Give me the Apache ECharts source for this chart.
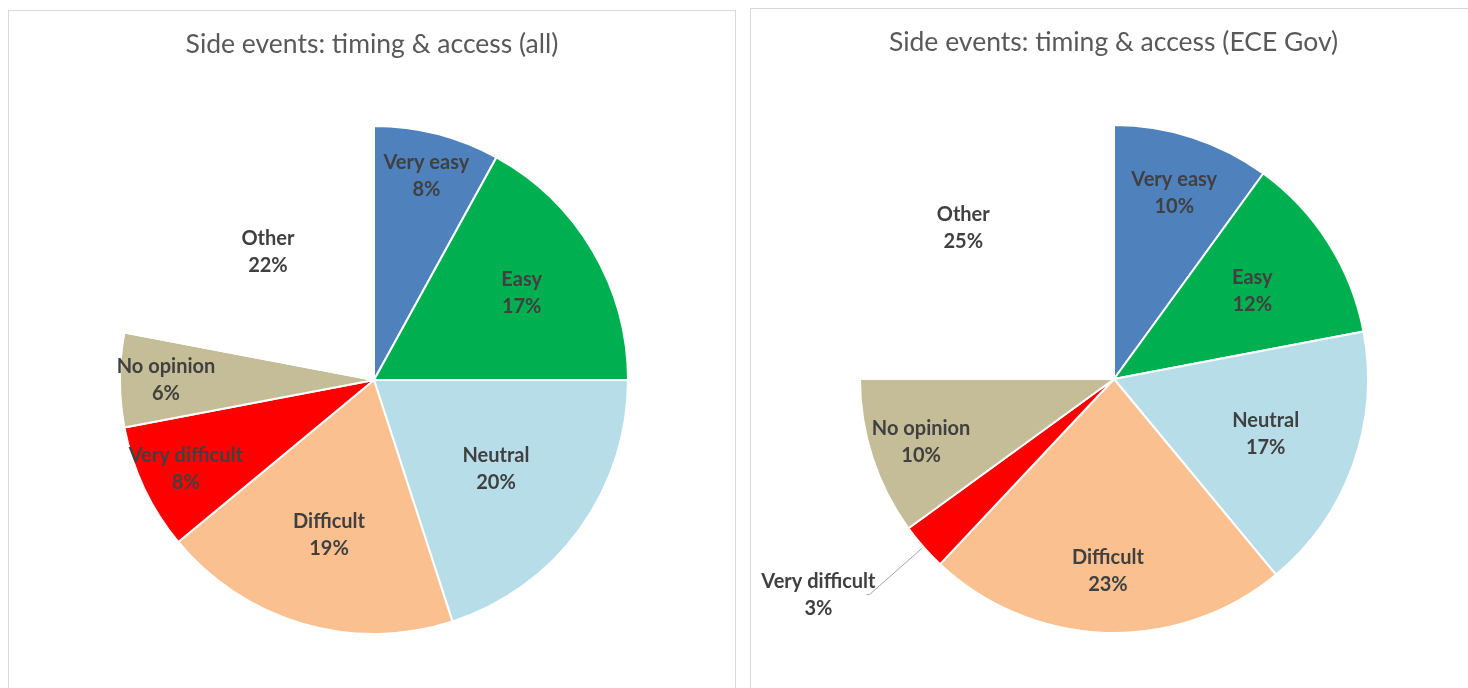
<!DOCTYPE html>
<html>
<head>
<meta charset="utf-8">
<script src="https://cdn.jsdelivr.net/npm/echarts@6/dist/echarts.min.js"></script>
<style>
  html, body { margin: 0; padding: 0; background: #fff; overflow: hidden; width: 1468px; height: 688px; }
  .panel { position: absolute; border: 1px solid #d9d9d9; background: #fff; box-sizing: border-box; }
  #left { left: 8px; top: 10px; width: 728px; height: 700px; }
  #right { left: 750px; top: 8px; width: 727px; height: 700px; }
</style>
</head>
<body>
<div id="left" class="panel"></div>
<div id="right" class="panel"></div>
<script>
// categories, in clockwise order from 12 o'clock
const categories = ['Very easy', 'Easy', 'Neutral', 'Difficult', 'Very difficult', 'No opinion', 'Other'];
const allValues = [8, 17, 20, 19, 8, 6, 22];
const govValues = [10, 12, 17, 23, 3, 10, 25];
const titles = ['Side events: timing & access (all)', 'Side events: timing & access (ECE Gov)'];

const colors = ['#4f81bd', '#00b050', '#b7dee8', '#fac090', '#ff0000', '#c4bd97', 'rgba(0,0,0,0)'];
// where each label sits, as a share of the radius (null = outside label)
const allLabelPos = [0.81, 0.66, 0.58, 0.62, 0.8, 0.8, 0.64];
const govLabelPos = [0.75, 0.63, 0.62, 0.74, null, 0.78, 0.82];

const R = 254;

function makeOption (title, values, labelPos, cx, cy, outsideIdx) {
  return {
    animation: false,
    title: {
      text: title,
      left: 'center',
      top: 15,
      textStyle: { fontFamily: 'Lato', fontWeight: 'normal', fontSize: 26.5, color: '#595959' }
    },
    series: [{
      type: 'pie',
      radius: [0, R],
      center: [cx, cy],
      startAngle: 90,
      clockwise: true,
      avoidLabelOverlap: false,
      itemStyle: { borderColor: '#fff', borderWidth: 2 },
      label: {
        show: true,
        position: 'inside',
        fontFamily: 'Lato',
        fontWeight: 'bold',
        fontSize: 20,
        lineHeight: 27,
        color: '#404040',
        formatter: p => p.name + '\n' + Math.round(p.percent) + '%'
      },
      labelLine: { show: false },
      labelLayout: function (params) {
        const f = labelPos[params.dataIndex];
        const r = params.labelRect;
        if (f == null) return { dx: 14 - r.width / 2, align: 'center' };
        const lx = r.x + r.width / 2, ly = r.y + r.height / 2;
        const k = f / 0.5 - 1;
        return { dx: (lx - cx) * k, dy: (ly - cy) * k };
      },
      emphasis: { disabled: true },
      data: categories.map((name, i) => {
        const item = { name: name, value: values[i], itemStyle: { color: colors[i] } };
        if (i === outsideIdx) {
          item.label = { position: 'outside', alignTo: 'none' };
          item.labelLine = { show: true, length: 72, length2: 3, smooth: false, lineStyle: { color: '#a6a6a6', width: 1 } };
        }
        return item;
      })
    }]
  };
}

const left = echarts.init(document.getElementById('left'));
left.setOption(makeOption(titles[0], allValues, allLabelPos, 365, 369, -1));
const right = echarts.init(document.getElementById('right'));
right.setOption(makeOption(titles[1], govValues, govLabelPos, 363, 370, 4));
</script>
</body>
</html>
